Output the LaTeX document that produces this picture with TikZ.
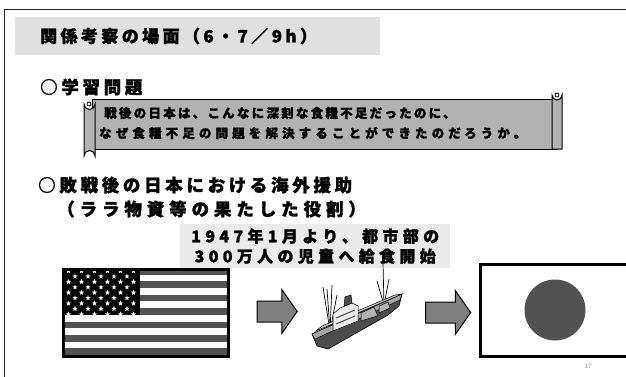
\documentclass[tikz,border=0pt]{standalone}
\usepackage{fontspec}
\newfontfamily\jptitle{Noto Sans CJK JP}[LetterSpace=20,FakeBold=1.5]
\newfontfamily\jphead{Noto Sans CJK JP}[LetterSpace=21,FakeBold=1.5]
\newfontfamily\jpheadb{Noto Sans CJK JP}[LetterSpace=28,FakeBold=1.5]
\newfontfamily\jpscroll{Noto Sans CJK JP}[LetterSpace=18,FakeBold=1.5]
\newfontfamily\jpscrollb{Noto Sans CJK JP}[LetterSpace=33,FakeBold=1.5]
\newfontfamily\jpnote{Noto Sans CJK JP}[LetterSpace=27,FakeBold=1.5]
\newfontfamily\jpsmall{Noto Sans CJK JP}
\usetikzlibrary{shapes.arrows,shapes.geometric}
\tikzstyle{frame}=[draw=black!85,line width=1.6pt]
\tikzstyle{band}=[fill=black!12,inner sep=0pt,anchor=north west]
\tikzstyle{title}=[anchor=west,inner sep=0pt,font=\jptitle\bfseries\fontsize{17}{20}\selectfont]
\tikzstyle{heading}=[anchor=west,inner sep=0pt,font=\jphead\bfseries\fontsize{17.5}{22}\selectfont]
\tikzstyle{subheading}=[anchor=west,inner sep=0pt,font=\jpheadb\bfseries\fontsize{17.5}{22}\selectfont]
\tikzstyle{scroll}=[fill=black!30,draw=black,line width=1pt]
\tikzstyle{scrolltext}=[anchor=west,inner sep=0pt,font=\jpscroll\bfseries\fontsize{12.5}{15}\selectfont]
\tikzstyle{scrolltextb}=[anchor=west,inner sep=0pt,font=\jpscrollb\bfseries\fontsize{12.5}{15}\selectfont]
\tikzstyle{note}=[fill=black!8,inner sep=0pt,anchor=north west,align=center,font=\jpnote\bfseries\fontsize{16}{20}\selectfont]
\tikzstyle{flagbox}=[draw=black,line width=2.5pt,inner sep=0pt,anchor=north west]
\tikzstyle{flagstar}=[star,star points=5,star point ratio=2.4,fill=white,inner sep=0pt,minimum size=5.5pt]
\tikzstyle{sun}=[circle,fill=black!68,inner sep=0pt,minimum size=61pt]
\tikzstyle{blockarrow}=[single arrow,fill=black!50,draw=black,line width=1pt,inner xsep=0pt,inner ysep=10pt,single arrow head extend=11.5pt,single arrow tip angle=110]
\tikzstyle{pagenum}=[text=black!50,inner sep=0pt,font=\jpsmall\fontsize{6}{7}\selectfont]

\begin{document}
\begin{tikzpicture}[x=1pt,y=-1pt]
  \useasboundingbox (0,0) rectangle (626,376);

  % page frame
  \draw[frame] (4.5,380) -- (4.5,9.5) -- (630,9.5);

% Title
  \node[band,minimum width=365pt,minimum height=38pt] (titleband) at (15,17) {};
  \node[title] (titletext) at (40,36) {関係考察の場面（6・7／9h）};

% Question on the scroll
  \node[heading] (question) at (40,87) {○学習問題};

  \filldraw[scroll] (92,99) -- (557,99) -- (557,149) -- (92,149) -- cycle;
  % right roll
  \filldraw[scroll] (552,149) -- (552,95) arc[start angle=180,end angle=0,radius=5] -- (562,149) -- cycle;
  \draw[line width=0.8pt] (557,95) circle (2);
  % left roll
  \filldraw[scroll] (84,104) arc[start angle=180,end angle=0,radius=5.5] -- (95,156) arc[start angle=0,end angle=-180,radius=5.5] -- cycle;
  \draw[line width=0.8pt] (89,104) circle (2);

  \node[scrolltext] (qline1) at (104,113) {戦後の日本は、こんなに深刻な食糧不足だったのに、};
  \node[scrolltextb] (qline2) at (99,133) {なぜ食糧不足の問題を解決することができたのだろうか。};

% Foreign aid
  \node[heading] (aid) at (38,185) {○敗戦後の日本における海外援助};
  \node[subheading] (lara) at (57,209) {（ララ物資等の果たした役割）};

  \node[note,minimum width=270pt,minimum height=44pt] (lunch) at (180,224)
       {1947年1月より、都市部の\\300万人の児童へ給食開始};

%US flag
  \def\fx{62}
  \def\fy{268}
  \def\fw{165}
  \def\fh{87}
  \foreach \i in {0,2,...,12}
     \fill[black!68] (\fx,\fy+\i*\fh/13) rectangle (\fx+\fw,\fy+\i*\fh/13+\fh/13);
  \fill[black] (\fx,\fy) rectangle (140,\fy+7*\fh/13);
  \foreach \r in {0,2,4,6,8}
     \foreach \c in {0,...,5}
        \node[flagstar] (star-\r-\c) at (\fx+6.5+13*\c,\fy+3+5.4*\r) {};
  \foreach \r in {1,3,5,7}
     \foreach \c in {0,...,4}
        \node[flagstar] (star-\r-\c) at (\fx+13+13*\c,\fy+3+5.4*\r) {};
  \node[flagbox,minimum width=\fw pt,minimum height=\fh pt] (usa) at (\fx,\fy) {};

% Arrows
  \node[blockarrow,minimum height=40pt,minimum width=43pt] (arrowA) at (273.5,311.5) {};
  \node[blockarrow,minimum height=45pt,minimum width=39pt] (arrowB) at (444.5,312.5) {};

%Ship
  % masts
  \foreach \tx/\ty in {323/287, 327/289, 332/285, 337/295}
     \draw[line width=0.7pt] (330,331) -- (\tx,\ty);
  \foreach \tx/\ty in {383/263, 377/281, 389/279}
     \draw[line width=0.7pt] (384,305) -- (\tx,\ty);
  % hull
  \filldraw[fill=black!70,draw=black,line width=0.6pt]
     (312,334) -- (402,294) -- (399,306) -- (388,315) -- (328,349) -- (317,346) -- cycle;
  \filldraw[fill=black!35,draw=black,line width=0.5pt]
     (312,334) -- (402,294) -- (400,300) -- (315,339) -- cycle;
  \filldraw[fill=black!20,draw=black,line width=0.5pt]
     (316,331) -- (322,326) -- (395,295) -- (402,294) -- cycle;
  % bridge and funnel
  \filldraw[fill=black!8,draw=black,line width=0.5pt]
     (333,331) -- (333,314) -- (340,308) -- (352,303) -- (358,306) -- (358,321) -- cycle;
  \draw[black!70,line width=1pt] (336,318) -- (355,310) (336,324) -- (355,316);
  \filldraw[fill=black!70,draw=black,line width=0.5pt]
     (344,306) -- (345,297) -- (351,295) -- (352,303) -- cycle;
  % hatches
  \filldraw[fill=black!30,draw=black,line width=0.5pt]
     (361,321) -- (361,313) -- (374,307) -- (377,314) -- (377,316) -- cycle;
  \filldraw[fill=black!30,draw=black,line width=0.5pt]
     (379,313) -- (379,306) -- (388,302) -- (390,308) -- cycle;

%Japanese flag
  \node[flagbox,fill=white,minimum width=160pt,minimum height=92pt] (japan) at (479,263) {};
  \node[sun] (sun) at (555,310) {};

  \node[pagenum] (page) at (588,366) {17};
\end{tikzpicture}
\end{document}
